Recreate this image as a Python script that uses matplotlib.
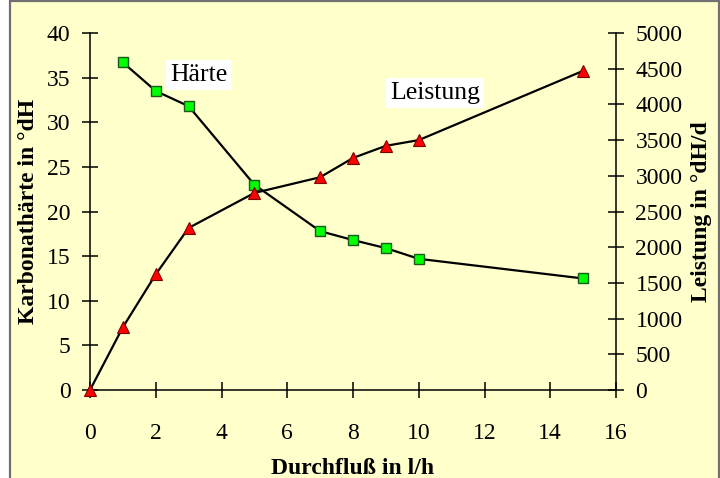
import matplotlib.pyplot as plt
from matplotlib.patches import Rectangle

# Daten
durchfluss_h = [1, 2, 3, 5, 7, 8, 9, 10, 15]
haerte = [36.7, 33.5, 31.8, 23.0, 17.8, 16.8, 15.9, 14.7, 12.5]
durchfluss_l = [0, 1, 2, 3, 5, 7, 8, 9, 10, 15]
leistung = [0, 880, 1620, 2270, 2760, 2980, 3250, 3420, 3500, 4470]

plt.rcParams['font.family'] = ['Liberation Serif', 'DejaVu Serif']
bg = "#FFFFCC"
fs = 17

fig = plt.figure(figsize=(7.2, 4.78), dpi=100, facecolor="white")

# Hintergrund mit Rahmen (unten abgeschnitten)
W, H = 720, 478
fig.patches.append(Rectangle((9.5 / W, -0.05), 709 / W, (476.5 / H) + 0.05,
                             transform=fig.transFigure, facecolor=bg,
                             edgecolor="#707070", lw=1.6, zorder=-5))

ax = fig.add_axes([0.125, 0.184, 0.7306, 0.747])
ax.patch.set_visible(False)
ax2 = ax.twinx()
ax2.patch.set_visible(False)

ax.plot(durchfluss_h, haerte, color="black", lw=1.6, marker="s", ms=7.5,
        mfc="#00FF00", mec="#1a5a1a", mew=1, zorder=3)
ax2.plot(durchfluss_l, leistung, color="black", lw=1.6, marker="^", ms=8,
         mfc="#FF0000", mec="#7a0000", mew=0.8, zorder=3, clip_on=False)

ax.set_xlim(0, 16)
ax.set_ylim(0, 40)
ax2.set_ylim(0, 5000)
ax.set_xticks(range(0, 17, 2))
ax.set_yticks(range(0, 41, 5))
ax2.set_yticks(range(0, 5001, 500))

for a in (ax, ax2):
    a.spines["top"].set_visible(False)
    for s in a.spines.values():
        s.set_linewidth(1.1)
    a.tick_params(direction="inout", length=11, width=1.1, labelsize=fs, pad=8.5)
ax.spines["right"].set_visible(False)
ax2.spines["left"].set_visible(False)
ax2.spines["bottom"].set_visible(False)
ax.tick_params(axis="x", pad=18)

ax.set_xlabel("Durchfluß in l/h", fontsize=fs, fontweight="bold", labelpad=10)
ax.set_ylabel("Karbonathärte in °dH", fontsize=fs, fontweight="bold", labelpad=6)
ax2.set_ylabel("Leistung in °dH/d", fontsize=fs, fontweight="bold", labelpad=6)

ax.text(3.3, 35.3, "Härte", fontsize=18.5, ha="center", va="center",
        bbox=dict(facecolor="white", edgecolor="none", pad=3))
ax.text(10.5, 33.3, "Leistung", fontsize=18.5, ha="center", va="center",
        bbox=dict(facecolor="white", edgecolor="none", pad=3))

fig.savefig("out.png", dpi=100, facecolor="white")
